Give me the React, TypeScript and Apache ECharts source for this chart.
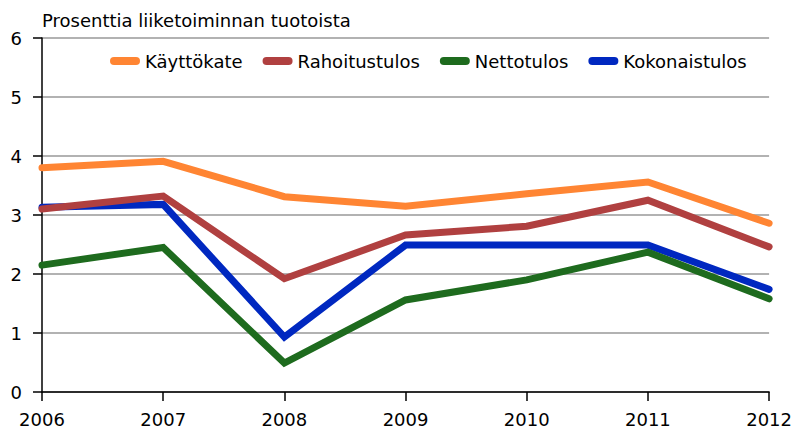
import React, { useEffect, useRef } from "react";
import * as echarts from "echarts";

const years = ["2006", "2007", "2008", "2009", "2010", "2011", "2012"];
const kayttokate = [3.8, 3.91, 3.31, 3.15, 3.36, 3.56, 2.86];
const rahoitustulos = [3.1, 3.32, 1.92, 2.66, 2.81, 3.25, 2.46];
const nettotulos = [2.15, 2.45, 0.49, 1.56, 1.9, 2.37, 1.58];
const kokonaistulos = [3.13, 3.18, 0.93, 2.49, 2.49, 2.49, 1.74];
const yTicks = [0, 1, 2, 3, 4, 5, 6];
const titleText = "Prosenttia liiketoiminnan tuotoista";

const FONT = "DejaVu Sans";
const legendIcon = "path://M4,0 H26 A4,4 0 0 1 26,8 H4 A4,4 0 0 1 4,0 Z";

export default function App() {
  const ref = useRef<HTMLDivElement>(null);
  useEffect(() => {
    if (!ref.current) return;
    const chart = echarts.init(ref.current, null, { renderer: "svg" });
    const mk = (name: string, data: number[], color: string, z: number) => ({
      name,
      type: "line",
      data,
      showSymbol: false,
      symbol: "none",
      z,
      itemStyle: { color },
      lineStyle: { color, width: 7, cap: "round", join: "miter" },
    });
    chart.setOption({
      animation: false,
      backgroundColor: "#ffffff",
      textStyle: { fontFamily: FONT },
      graphic: [
        {
          type: "text",
          left: 42,
          top: 11,
          style: { text: titleText, font: `18px '${FONT}'`, fill: "#000" },
        },
      ],
      legend: {
        left: 105,
        top: 47,
        itemWidth: 30,
        itemHeight: 8,
        itemGap: 20,
        icon: legendIcon,
        textStyle: { fontFamily: FONT, fontSize: 18, color: "#000" },
        data: ["Käyttökate", "Rahoitustulos", "Nettotulos", "Kokonaistulos"],
      },
      grid: { left: 42, right: 23, top: 38, bottom: 38, containLabel: false },
      xAxis: {
        type: "category",
        data: years,
        boundaryGap: false,
        axisLine: { lineStyle: { color: "#000", width: 1.5 } },
        axisTick: { show: true, length: 9, lineStyle: { color: "#000", width: 1.5 } },
        axisLabel: { color: "#000", fontSize: 18, fontFamily: FONT, margin: 18 },
        splitLine: { show: false },
      },
      yAxis: {
        type: "value",
        min: yTicks[0],
        max: yTicks[yTicks.length - 1],
        interval: 1,
        axisLine: { show: true, lineStyle: { color: "#000", width: 1.5 } },
        axisTick: { show: true, length: 9, lineStyle: { color: "#000", width: 1.5 } },
        axisLabel: { color: "#000", fontSize: 18, fontFamily: FONT, margin: 20 },
        splitLine: { show: true, lineStyle: { color: "#999", width: 1.5 } },
      },
      series: [
        mk("Käyttökate", kayttokate, "#FF8533", 3),
        mk("Rahoitustulos", rahoitustulos, "#B04040", 3),
        mk("Nettotulos", nettotulos, "#1E6B1E", 3),
        mk("Kokonaistulos", kokonaistulos, "#0028C0", 2),
      ],
    });
    return () => chart.dispose();
  }, []);
  return (
    <div
      ref={ref}
      style={{ position: "fixed", left: 0, top: 0, width: 795, height: 430, background: "#fff" }}
    />
  );
}
